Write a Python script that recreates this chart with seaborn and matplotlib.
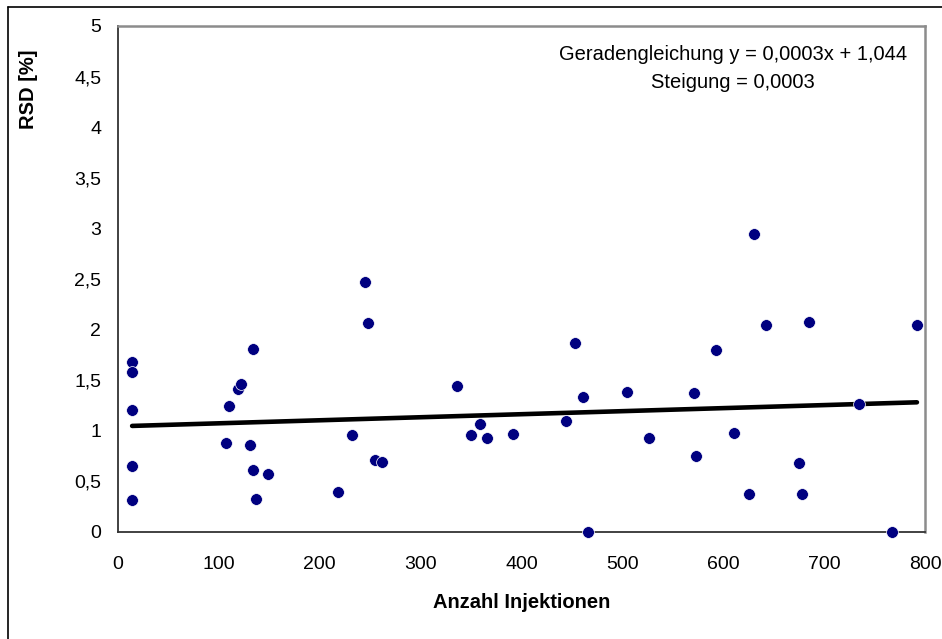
import matplotlib
matplotlib.use("Agg")
import matplotlib.pyplot as plt
from matplotlib.lines import Line2D
import seaborn as sns
import numpy as np
import pandas as pd

# ---- data ----
injektionen = [14, 14, 14, 14, 14, 107, 109.6, 119, 122, 131, 134, 134, 137, 149,
               218, 232, 245, 248, 255, 262, 336, 350, 359, 366, 392, 444, 453,
               461, 466, 505, 526, 571, 573, 593, 611, 626, 630, 642, 675, 678,
               685, 735, 767, 792]
rsd = [1.68, 1.58, 1.21, 0.655, 0.32, 0.88, 1.25, 1.41, 1.46, 0.86, 1.81, 0.61, 0.33, 0.57,
       0.40, 0.96, 2.47, 2.07, 0.71, 0.69, 1.44, 0.96, 1.07, 0.93, 0.97, 1.10, 1.87,
       1.33, 0.0, 1.38, 0.93, 1.37, 0.75, 1.80, 0.98, 0.38, 2.94, 2.05, 0.685, 0.375,
       2.08, 1.26, 0.0, 2.05]
slope = 0.0003
intercept = 1.044
x_ticks = [0, 100, 200, 300, 400, 500, 600, 700, 800]
y_ticks = [0, 0.5, 1, 1.5, 2, 2.5, 3, 3.5, 4, 4.5, 5]
y_tick_labels = ["0", "0,5", "1", "1,5", "2", "2,5", "3", "3,5", "4", "4,5", "5"]
eq_text = "Geradengleichung y = 0,0003x + 1,044"
slope_text = "Steigung = 0,0003"

sns.set_theme(style="white")
plt.rcParams['font.family'] = ['Liberation Sans', 'DejaVu Sans']

df = pd.DataFrame({"Anzahl Injektionen": injektionen, "RSD [%]": rsd})
xs = np.array([min(injektionen), max(injektionen)])
trend = pd.DataFrame({"x": xs, "y": intercept + slope * xs})

W, H = 942, 639
fig = plt.figure(figsize=(W / 100, H / 100), dpi=100)
fig.patch.set_facecolor("white")
ax = fig.add_axes([118 / W, 1 - 532 / H, (925 - 118) / W, (532 - 26) / H])

sns.lineplot(data=trend, x="x", y="y", ax=ax, color="black", linewidth=3.3,
             solid_capstyle="round", zorder=2)
sns.scatterplot(data=df, x="Anzahl Injektionen", y="RSD [%]", ax=ax,
                color="#000080", s=72, edgecolor="white", linewidth=0.5,
                zorder=3, clip_on=False)

ax.set_xlim(0, 800)
ax.set_ylim(0, 5)
ax.set_xticks(x_ticks)
ax.set_xticklabels([str(t) for t in x_ticks])
ax.set_yticks(y_ticks)
ax.set_yticklabels(y_tick_labels)
ax.tick_params(axis="both", which="major", direction="out", length=6, width=1.0,
               color="black", labelsize=14, labelcolor="black")
ax.tick_params(axis="x", pad=11)
ax.tick_params(axis="y", pad=6)

for side in ["left", "bottom"]:
    ax.spines[side].set_color("#333333")
    ax.spines[side].set_linewidth(1.3)
for side in ["top", "right"]:
    ax.spines[side].set_color("#8c8c8c")
    ax.spines[side].set_linewidth(1.8)
    ax.spines[side].set_visible(True)

ax.set_xlabel("Anzahl Injektionen", fontsize=14.5, fontweight="bold", color="black")
ax.xaxis.set_label_coords(0.5, (532 - 603) / 506)
ax.xaxis.label.set_va("center")
ax.set_ylabel("RSD [%]", fontsize=14.5, fontweight="bold", color="black",
              va="center", ha="center")
ax.yaxis.set_label_coords((28 - 118) / 807, (532 - 89) / 506)

ax.text((733 - 118) / 807, (532 - 55) / 506, eq_text, transform=ax.transAxes,
        ha="center", va="center", fontsize=14.5, color="black")
ax.text((733 - 118) / 807, (532 - 83) / 506, slope_text, transform=ax.transAxes,
        ha="center", va="center", fontsize=14.5, color="black")

# outer chart frame (left and top edges visible)
fig.add_artist(Line2D([8 / W, 8 / W], [0, 1 - 7 / H], transform=fig.transFigure,
                      color="black", linewidth=1.2))
fig.add_artist(Line2D([8 / W, 1], [1 - 7 / H, 1 - 7 / H], transform=fig.transFigure,
                      color="black", linewidth=1.2))

fig.savefig("out.png", dpi=100, facecolor="white")
